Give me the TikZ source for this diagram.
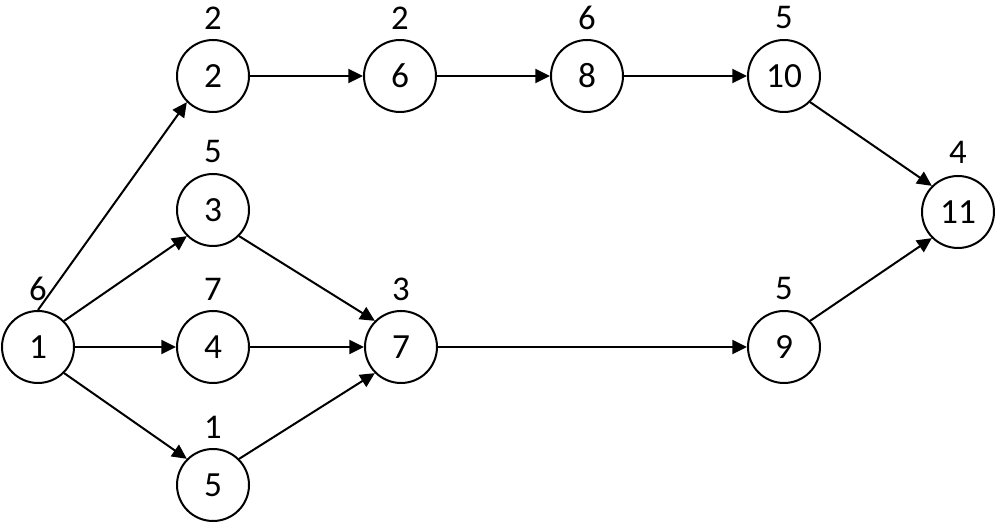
\documentclass[tikz,border=0pt]{standalone}
\usepackage{fontspec}
\setmainfont{Carlito}
\usetikzlibrary{arrows.meta}
\begin{document}
\begin{tikzpicture}[x=0.75pt,y=-0.75pt,
  task/.style={circle,draw,line width=1.5pt,minimum size=54pt,inner sep=0pt,font=\fontsize{26.5}{30}\selectfont},
  dur/.style={inner sep=0pt,font=\fontsize{26}{30}\selectfont},
  conn/.style={line width=1.5pt,-{Triangle[length=11pt,width=10.5pt]}}]
\useasboundingbox (0,0) rectangle (1000,523);
\node[task] (n1) at (38,347) {1};
\node[task] (n2) at (213,76) {2};
\node[task] (n3) at (213,210) {3};
\node[task] (n4) at (213,347) {4};
\node[task] (n5) at (213,485) {5};
\node[task] (n6) at (400,76) {6};
\node[task] (n7) at (401,347) {7};
\node[task] (n8) at (587,76) {8};
\node[task] (n9) at (784,347) {9};
\node[task] (n10) at (784,76) {10};
\node[task] (n11) at (958,212) {11};
\node[dur] (d1) at (38,289) {6};
\node[dur] (d2) at (213,18) {2};
\node[dur] (d3) at (213,152) {5};
\node[dur] (d4) at (213,289) {7};
\node[dur] (d5) at (213,427) {1};
\node[dur] (d6) at (400,18) {2};
\node[dur] (d7) at (401,289) {3};
\node[dur] (d8) at (587,18) {6};
\node[dur] (d9) at (784,289) {5};
\node[dur] (d10) at (784,18) {5};
\node[dur] (d11) at (958,152) {4};
\draw[conn] (n1.north) -- (n2.south west);
\draw[conn] (n1.north east) -- (n3.south west);
\draw[conn] (n1.east) -- (n4.west);
\draw[conn] (n1.south east) -- (n5.north west);
\draw[conn] (n2.east) -- (n6.west);
\draw[conn] (n6.east) -- (n8.west);
\draw[conn] (n8.east) -- (n10.west);
\draw[conn] (n3.south east) -- (n7.north west);
\draw[conn] (n4.east) -- (n7.west);
\draw[conn] (n5.north east) -- (n7.south west);
\draw[conn] (n7.east) -- (n9.west);
\draw[conn] (n10.south east) -- (n11.north west);
\draw[conn] (n9.north east) -- (n11.south west);
\end{tikzpicture}
\end{document}
